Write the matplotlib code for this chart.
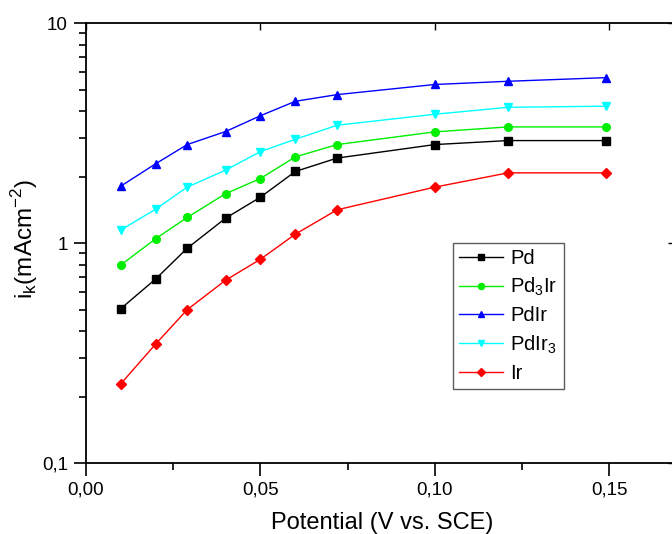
import numpy as np
import matplotlib
matplotlib.use("Agg")
import matplotlib.pyplot as plt
from matplotlib.ticker import FixedLocator, FuncFormatter, LogLocator, NullFormatter

# ================================
# Data
# ================================
potential = [0.010, 0.020, 0.029, 0.040, 0.050, 0.060, 0.072, 0.100, 0.121, 0.149]

ik_pd = [0.505, 0.689, 0.949, 1.30, 1.62, 2.12, 2.44, 2.81, 2.93, 2.93]
ik_pd3ir = [0.797, 1.05, 1.31, 1.68, 1.97, 2.47, 2.81, 3.21, 3.38, 3.38]
ik_pdir = [1.82, 2.30, 2.81, 3.22, 3.80, 4.42, 4.74, 5.27, 5.45, 5.66]
ik_pdir3 = [1.15, 1.43, 1.80, 2.15, 2.61, 2.97, 3.44, 3.86, 4.15, 4.20]
ik_ir = [0.230, 0.349, 0.499, 0.679, 0.846, 1.10, 1.42, 1.80, 2.09, 2.09]

series = [
    (ik_pd, r"Pd", "black", "s"),
    (ik_pd3ir, r"Pd$_\mathregular{3}$Ir", "#00ee00", "o"),
    (ik_pdir, r"PdIr", "#0000ff", "^"),
    (ik_pdir3, r"PdIr$_\mathregular{3}$", "#00ffff", "v"),
    (ik_ir, r"Ir", "#ff0000", "D"),
]

x_ticks = [0.00, 0.05, 0.10, 0.15]
y_ticks = [0.1, 1, 10]

# ================================
# Plot
# ================================
plt.rcParams["font.family"] = ["Liberation Sans", "DejaVu Sans"]

fig = plt.figure(figsize=(6.72, 5.34), dpi=100)
ax = fig.add_axes([0.128, 0.1324, 0.8824, 0.824])

for vals, label, color, marker in series:
    ms = 5 if marker == "D" else 5.5
    ax.plot(potential, vals, color=color, marker=marker, markersize=ms,
            linewidth=1.0, label=label)

ax.set_yscale("log")
ax.set_ylim(0.1, 10)
ax.set_xlim(0, 0.17)

ax.xaxis.set_major_locator(FixedLocator(x_ticks))
ax.xaxis.set_minor_locator(FixedLocator([0.025, 0.075, 0.125]))
ax.xaxis.set_major_formatter(FuncFormatter(lambda v, p: f"{v:.2f}".replace(".", ",")))

ax.yaxis.set_major_locator(FixedLocator(y_ticks))
ax.yaxis.set_minor_locator(LogLocator(base=10, subs=np.arange(2, 10)))
ax.yaxis.set_major_formatter(FuncFormatter(lambda v, p: "10" if v >= 10 else ("1" if v >= 1 else "0,1")))
ax.yaxis.set_minor_formatter(NullFormatter())

ax.tick_params(which="major", direction="out", length=9, width=1.2, labelsize=13.5, pad=4)
ax.tick_params(which="minor", direction="out", length=5, width=1.2)
for s in ax.spines.values():
    s.set_linewidth(1.3)

# inward major ticks on top and right
top = ax.secondary_xaxis("top")
top.xaxis.set_major_locator(FixedLocator(x_ticks))
top.tick_params(direction="in", length=5, width=1, labeltop=False)
top.spines["top"].set_visible(False)
right = ax.secondary_yaxis("right")
right.yaxis.set_major_locator(FixedLocator(y_ticks))
right.yaxis.set_minor_locator(FixedLocator([]))
right.tick_params(direction="in", length=8, width=1, labelright=False)
right.spines["right"].set_visible(False)

ax.set_xlabel("Potential (V vs. SCE)", fontsize=17, labelpad=10)
ax.set_ylabel(r"i$_\mathregular{k}$(mAcm$^\mathregular{-2}$)", fontsize=17.5)
ax.yaxis.set_label_coords(-0.078, 0.51)

leg = ax.legend(loc="upper left", bbox_to_anchor=(0.619, 0.5007), fontsize=14.5,
                frameon=True, fancybox=False, borderaxespad=0, borderpad=0.3,
                labelspacing=0.4, handlelength=2.2, handletextpad=0.35,
                markerscale=0.8)
leg.get_frame().set_edgecolor("#333333")
leg.get_frame().set_linewidth(1.0)

plt.savefig("out.png", dpi=100)
